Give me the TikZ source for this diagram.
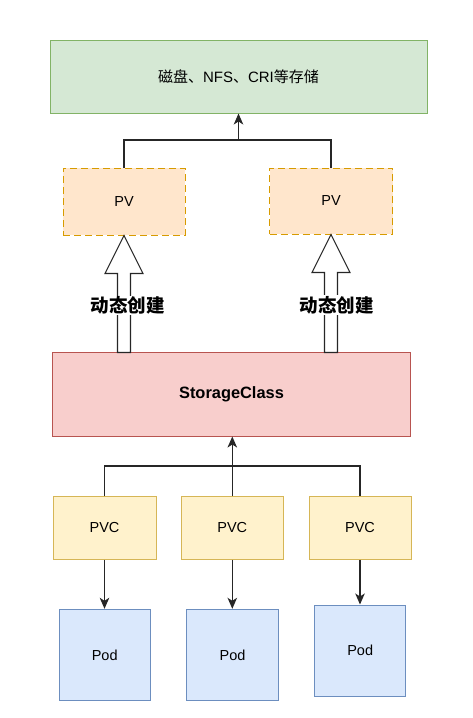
\documentclass[tikz,border=0pt]{standalone}
\usepackage{fontspec}
\setmainfont{Liberation Sans}
\newfontfamily\cjk{Noto Sans CJK SC}
\usetikzlibrary{arrows.meta}
\definecolor{gfill}{HTML}{D5E8D4}\definecolor{gline}{HTML}{82B366}
\definecolor{ofill}{HTML}{FFE6CC}\definecolor{oline}{HTML}{D79B00}
\definecolor{rfill}{HTML}{F8CECC}\definecolor{rline}{HTML}{B85450}
\definecolor{yfill}{HTML}{FFF2CC}\definecolor{yline}{HTML}{D6B656}
\definecolor{bfill}{HTML}{DAE8FC}\definecolor{bline}{HTML}{6C8EBF}
\tikzset{
  box/.style={draw, line width=1pt, inner sep=0pt, font=\fontsize{14.5}{16}\selectfont},
  pvbox/.style={box, fill=ofill, draw=oline, dash pattern=on 7pt off 4pt},
  conn/.style={line width=1.3pt, draw=black!85},
  arr/.style={conn, -{Stealth[length=11pt,width=9.5pt,inset=3pt]}},
  blockarrow/.style={draw=black!85, line width=1.1pt, fill=white, line join=miter},
  lbl/.style={fill=white, inner sep=1pt, font=\fontsize{18.5}{20}\selectfont\bfseries\cjk}
}
\begin{document}
\begin{tikzpicture}[x=1pt,y=-1pt]
\useasboundingbox (0,0) rectangle (473,718);
\node[box, fill=gfill, draw=gline, minimum width=377pt, minimum height=73pt, font=\fontsize{15}{17}\selectfont] (top) at (238.5,76.5)
  {{\cjk 磁盘、}NFS{\cjk 、}CRI{\cjk 等存储}};
\node[pvbox, minimum width=122pt, minimum height=67pt] (pvL) at (124,201.5) {PV};
\node[pvbox, minimum width=123pt, minimum height=66pt] (pvR) at (331,201) {PV};
\node[box, fill=rfill, draw=rline, minimum width=358pt, minimum height=84pt, font=\fontsize{16.4}{18}\selectfont\bfseries] (sc) at (231.5,394) {StorageClass};
\node[box, fill=yfill, draw=yline, minimum width=103pt, minimum height=62.6pt] (pvc1) at (104.5,528) {PVC};
\node[box, fill=yfill, draw=yline, minimum width=102pt, minimum height=62.6pt] (pvc2) at (232.3,528) {PVC};
\node[box, fill=yfill, draw=yline, minimum width=102pt, minimum height=62.6pt] (pvc3) at (360,528) {PVC};
\node[box, fill=bfill, draw=bline, minimum width=91.3pt, minimum height=91.4pt] (pod1) at (104.7,655) {Pod};
\node[box, fill=bfill, draw=bline, minimum width=91.3pt, minimum height=91.4pt] (pod2) at (232.5,655) {Pod};
\node[box, fill=bfill, draw=bline, minimum width=91.3pt, minimum height=91.4pt] (pod3) at (360.2,650.7) {Pod};
% top connectors
\coordinate (j) at (238.5,140);
\draw[conn] (pvL.north) |- (j) -| (pvR.north);
\draw[arr] (j) -- (top.south);
% block arrows
\draw[blockarrow] (pvL.south) -- ++(19,38) -- ++(-12.5,0) -- ++(0,79) -- ++(-13,0) -- ++(0,-79) -- ++(-12.5,0) -- cycle;
\draw[blockarrow] (pvR.south) -- ++(19,38) -- ++(-12.5,0) -- ++(0,80) -- ++(-13,0) -- ++(0,-80) -- ++(-12.5,0) -- cycle;
\node[lbl] (l1) at (127.5,305.5) {动态创建};
\node[lbl] (l2) at (336.5,305) {动态创建};
% bottom connectors
\coordinate (k) at (232,466);
\draw[conn] (pvc1.north) |- (k) -| (pvc3.north);
\draw[arr] (pvc2.north) -- (pvc2.north |- sc.south);
\draw[arr] (pvc1.south) -- (pvc1.south |- pod1.north);
\draw[arr] (pvc2.south) -- (pvc2.south |- pod2.north);
\draw[arr] (pvc3.south) -- (pvc3.south |- pod3.north);
\end{tikzpicture}
\end{document}
